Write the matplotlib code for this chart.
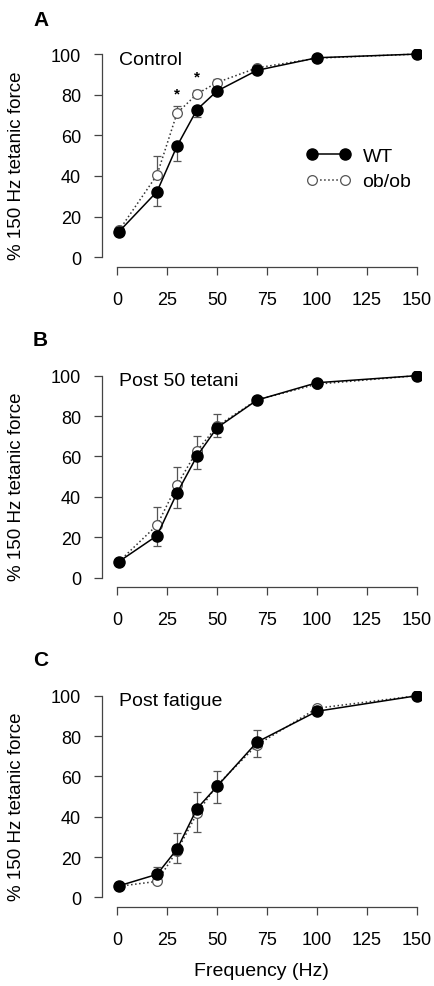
import matplotlib
matplotlib.use("Agg")
import matplotlib.pyplot as plt
import numpy as np

plt.rcParams['font.family'] = ['Liberation Sans', 'DejaVu Sans']

# frequencies (Hz)
freq = [1, 20, 30, 40, 50, 70, 100, 150]

# panel A - control
wt_a = [12.6, 32.3, 54.7, 72.7, 81.8, 92.0, 98.2, 100]
ob_a = [13.2, 40.5, 70.9, 80.4, 86.0, 93.2, 98.0, 100]
wt_a_lo = [1.0, 7.0, 7.4, 3.6, 1.5, 1.0, 0.5, 0]
ob_a_hi = [1.0, 9.5, 3.5, 2.0, 1.8, 0.8, 0.5, 0]

# panel B - post 50 tetani
wt_b = [8.0, 20.8, 41.9, 60.2, 74.2, 87.9, 96.5, 100]
ob_b = [8.0, 26.0, 45.8, 62.8, 75.0, 88.0, 95.8, 100]
wt_b_lo = [0.5, 4.9, 7.6, 6.6, 4.4, 1.0, 0.5, 0]
ob_b_hi = [0.5, 9.2, 9.2, 7.2, 5.8, 1.0, 0.5, 0]

# panel C - post fatigue
wt_c = [5.7, 11.4, 23.9, 44.0, 55.0, 77.0, 92.3, 100]
ob_c = [5.5, 7.9, 23.0, 41.6, 55.6, 75.6, 93.8, 100]
wt_c_hi = [0.5, 3.7, 7.9, 8.3, 7.9, 5.9, 0.5, 0]
ob_c_lo = [0.5, 1.0, 6.0, 9.0, 8.7, 6.0, 0.5, 0]

panel_letters = ['A', 'B', 'C']
panel_titles = ['Control', 'Post 50 tetani', 'Post fatigue']
xticks = [0, 25, 50, 75, 100, 125, 150]
yticks = [0, 20, 40, 60, 80, 100]

fig = plt.figure(figsize=(4.35, 9.87), dpi=100)
W, H = 435.0, 987.0
# pixel boxes: (bottom, top)
boxes = [(268, 50), (588.4, 371.6), (908, 691.7)]
letter_y = [20, 341, 661]

axes = []
for i, (yb, yt) in enumerate(boxes):
    ax = fig.add_axes([102 / W, 1 - yb / H, 319 / W, (yb - yt) / H])
    axes.append(ax)

err_col = '#555555'

def draw(ax, wt, ob, wt_err, ob_err):
    ax.errorbar(freq, ob, yerr=ob_err, fmt='none', ecolor=err_col,
                elinewidth=0.9, capsize=3, capthick=0.9, zorder=2)
    ax.errorbar(freq, wt, yerr=wt_err, fmt='none', ecolor=err_col,
                elinewidth=0.9, capsize=3, capthick=0.9, zorder=2)
    l2, = ax.plot(freq, ob, linestyle=':', color='#333333', lw=1.1,
                  marker='o', ms=7, mfc='white', mec='#555555', mew=0.9,
                  zorder=3, label='ob/ob')
    l1, = ax.plot(freq, wt, linestyle='-', color='black', lw=1.1,
                  marker='o', ms=8, mfc='black', mec='black',
                  zorder=4, label='WT')
    return l1, l2

z = [0] * len(freq)
h = draw(axes[0], wt_a, ob_a, [wt_a_lo, z], [z, ob_a_hi])
draw(axes[1], wt_b, ob_b, [wt_b_lo, z], [z, ob_b_hi])
draw(axes[2], wt_c, ob_c, [z, wt_c_hi], [ob_c_lo, z])

for i, ax in enumerate(axes):
    ax.set_xlim(-7.5, 152)
    ax.set_ylim(-4.8, 102.5)
    for s in ['top', 'right']:
        ax.spines[s].set_visible(False)
    ax.spines['left'].set_bounds(0, 100)
    ax.spines['bottom'].set_bounds(0, 150)
    for s in ['left', 'bottom']:
        ax.spines[s].set_color('#444444')
        ax.spines[s].set_linewidth(0.9)
    ax.set_xticks(xticks)
    ax.set_yticks(yticks)
    ax.tick_params(axis='both', direction='out', length=6, width=0.9,
                   color='#444444', labelsize=13)
    ax.tick_params(axis='x', pad=11)
    ax.tick_params(axis='y', pad=9)
    ax.set_ylabel('% 150 Hz tetanic force', fontsize=13.5)
    ax.yaxis.set_label_coords(-0.24, 0.47)
    ax.text(1, 97.5, panel_titles[i], fontsize=14, ha='left', va='center')
    fig.text(33 / W, 1 - letter_y[i] / H, panel_letters[i], fontsize=15,
             fontweight='bold', ha='left', va='center')

# significance stars
axes[0].text(30, 80.5, '*', fontsize=11, fontweight='bold', ha='center', va='center')
axes[0].text(40, 89, '*', fontsize=11, fontweight='bold', ha='center', va='center')

axes[0].legend(handles=list(h), numpoints=2, frameon=False, fontsize=14,
               handlelength=2.3, handletextpad=0.6, labelspacing=0.4,
               loc='center left', bbox_to_anchor=(0.585, 0.45))

axes[2].set_xlabel('Frequency (Hz)', fontsize=14)
axes[2].xaxis.set_label_coords(0.5, -0.255)

fig.savefig('out.png', dpi=100)
